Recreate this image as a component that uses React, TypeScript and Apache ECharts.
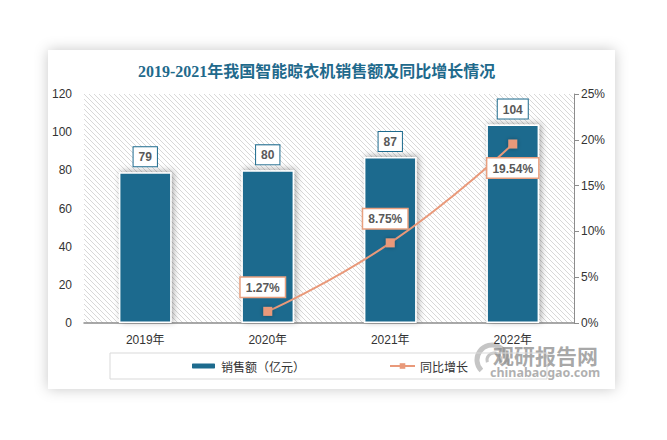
import React, { useEffect, useRef } from "react";
import * as echarts from "echarts";

const categories = ["2019年", "2020年", "2021年", "2022年"];
const salesValues = [79, 80, 87, 104];
const growthValues: (number | null)[] = [null, 1.27, 8.75, 19.54];
const growthLabelPos = ["top", "top", "top", "bottom"];
const leftTicks = { min: 0, max: 120, interval: 20 };
const rightTicks = { min: 0, max: 25, interval: 5 };

function makeHatch(): string {
  const c = document.createElement("canvas");
  const s = 5;
  c.width = s;
  c.height = s;
  const ctx = c.getContext("2d");
  if (ctx) {
    ctx.fillStyle = "#ffffff";
    ctx.fillRect(0, 0, s, s);
    ctx.strokeStyle = "#d8d8d8";
    ctx.lineWidth = 1;
    ctx.beginPath();
    ctx.moveTo(-1, -1);
    ctx.lineTo(s + 1, s + 1);
    ctx.moveTo(-1, s - 1);
    ctx.lineTo(1, s + 1);
    ctx.moveTo(s - 1, -1);
    ctx.lineTo(s + 1, 1);
    ctx.stroke();
  }
  return c.toDataURL();
}

export default function App() {
  const ref = useRef<HTMLDivElement>(null);
  useEffect(() => {
    if (!ref.current) return;
    const chart = echarts.init(ref.current, null, { renderer: "svg" });
    const hatch = makeHatch();
    const numFont = "Liberation Sans, Noto Sans CJK SC, sans-serif";
    const cjkFont = "Noto Sans CJK SC, sans-serif";
    chart.setOption({
      animation: false,
      backgroundColor: "#ffffff",
      title: {
        text: "2019-2021年我国智能晾衣机销售额及同比增长情况",
        left: 138,
        top: 63,
        padding: 0,
        textStyle: {
          color: "#1f6a8c",
          fontSize: 16,
          fontWeight: "bold",
          fontFamily: "Liberation Serif, Noto Sans CJK SC, serif",
        },
      },
      graphic: [
        {
          type: "rect",
          z: -10,
          shape: { x: 48, y: 50, width: 567, height: 339 },
          style: {
            fill: "#ffffff",
            shadowBlur: 14,
            shadowColor: "rgba(0,0,0,0.22)",
          },
        },
        {
          type: "group",
          z: 100,
          children: [
            {
              type: "arc",
              shape: { cx: 492, cy: 360, r: 15, startAngle: Math.PI * 0.75, endAngle: Math.PI * 2.1 },
              style: { stroke: "rgba(150,150,150,0.55)", lineWidth: 5, fill: "none" },
            },
            {
              type: "arc",
              shape: { cx: 494, cy: 360, r: 7, startAngle: Math.PI * 0.9, endAngle: Math.PI * 2.2 },
              style: { stroke: "rgba(150,150,150,0.55)", lineWidth: 3, fill: "none" },
            },
            {
              type: "text",
              x: 493,
              y: 344,
              style: {
                text: "观研报告网",
                fill: "rgba(140,140,140,0.75)",
                fontSize: 21,
                fontWeight: "bold",
                fontFamily: cjkFont,
              },
            },
            {
              type: "text",
              x: 490,
              y: 366,
              style: {
                text: "chinabaogao.com",
                fill: "rgba(150,150,150,0.75)",
                fontSize: 12.5,
                fontWeight: "bold",
                fontFamily: "Noto Sans, sans-serif",
              },
            },
          ],
        },
      ],
      legend: {
        left: 110,
        top: 353,
        padding: [7, 79, 7, 80],
        itemGap: 84,
        itemWidth: 25,
        itemHeight: 7,
        borderColor: "#d9d9d9",
        borderWidth: 1,
        textStyle: { color: "#333", fontSize: 12, fontFamily: cjkFont },
        data: ["销售额（亿元）", "同比增长"],
      },
      grid: {
        left: 84,
        right: 93,
        top: 94,
        bottom: 117,
        show: true,
        borderWidth: 0,
        backgroundColor: { image: hatch, repeat: "repeat" },
      },
      xAxis: {
        type: "category",
        data: categories,
        axisTick: { show: false },
        axisLine: { lineStyle: { color: "#8c8c8c", width: 1.5 } },
        axisLabel: { color: "#333", fontSize: 12, margin: 11, fontFamily: numFont },
      },
      yAxis: [
        {
          type: "value",
          ...leftTicks,
          axisLine: { show: false },
          axisTick: { show: false },
          splitLine: { show: false },
          axisLabel: { color: "#333", fontSize: 12, margin: 12, fontFamily: numFont },
        },
        {
          type: "value",
          ...rightTicks,
          position: "right",
          axisLine: { show: true, lineStyle: { color: "#8c8c8c" } },
          axisTick: { show: true, length: 5, lineStyle: { color: "#8c8c8c" } },
          splitLine: { show: false },
          axisLabel: { color: "#333", fontSize: 12, margin: 7, formatter: "{value}%", fontFamily: numFont },
        },
      ],
      series: [
        {
          name: "销售额（亿元）",
          type: "bar",
          data: salesValues,
          barWidth: "43%",
          itemStyle: {
            color: "#1d6b8e",
            borderColor: "#ffffff",
            borderWidth: 1.5,
            shadowBlur: 6,
            shadowColor: "rgba(0,0,0,0.35)",
            shadowOffsetX: 2,
            shadowOffsetY: -1,
          },
          label: {
            show: true,
            position: "top",
            distance: 6,
            color: "#595959",
            fontWeight: "bold",
            fontSize: 12,
            fontFamily: numFont,
            backgroundColor: "#ffffff",
            borderColor: "#1d6b8e",
            borderWidth: 1,
            padding: [4, 5, 3, 5],
          },
        },
        {
          name: "同比增长",
          type: "line",
          yAxisIndex: 1,
          smooth: true,
          connectNulls: false,
          symbol: "rect",
          symbolSize: 9,
          data: growthValues.map((v, i) => ({
            value: v,
            label: {
              position: growthLabelPos[i],
              offset: growthLabelPos[i] === "top" ? [-5, -2] : [0, 2],
            },
          })),
          lineStyle: { color: "#e9997a", width: 2 },
          itemStyle: {
            color: "#e9997a",
            shadowBlur: 4,
            shadowColor: "rgba(0,0,0,0.3)",
          },
          label: {
            show: true,
            distance: 8,
            formatter: (p: any) => (p.value == null ? "" : p.value.toFixed(2) + "%"),
            color: "#595959",
            fontWeight: "bold",
            fontSize: 12,
            fontFamily: numFont,
            backgroundColor: "#ffffff",
            borderColor: "#e9a07f",
            borderWidth: 1.5,
            padding: [4, 5, 3, 5],
          },
        },
      ],
    });
    return () => chart.dispose();
  }, []);
  return (
    <div
      ref={ref}
      style={{ position: "fixed", left: 0, top: 0, width: 667, height: 440 }}
    />
  );
}
